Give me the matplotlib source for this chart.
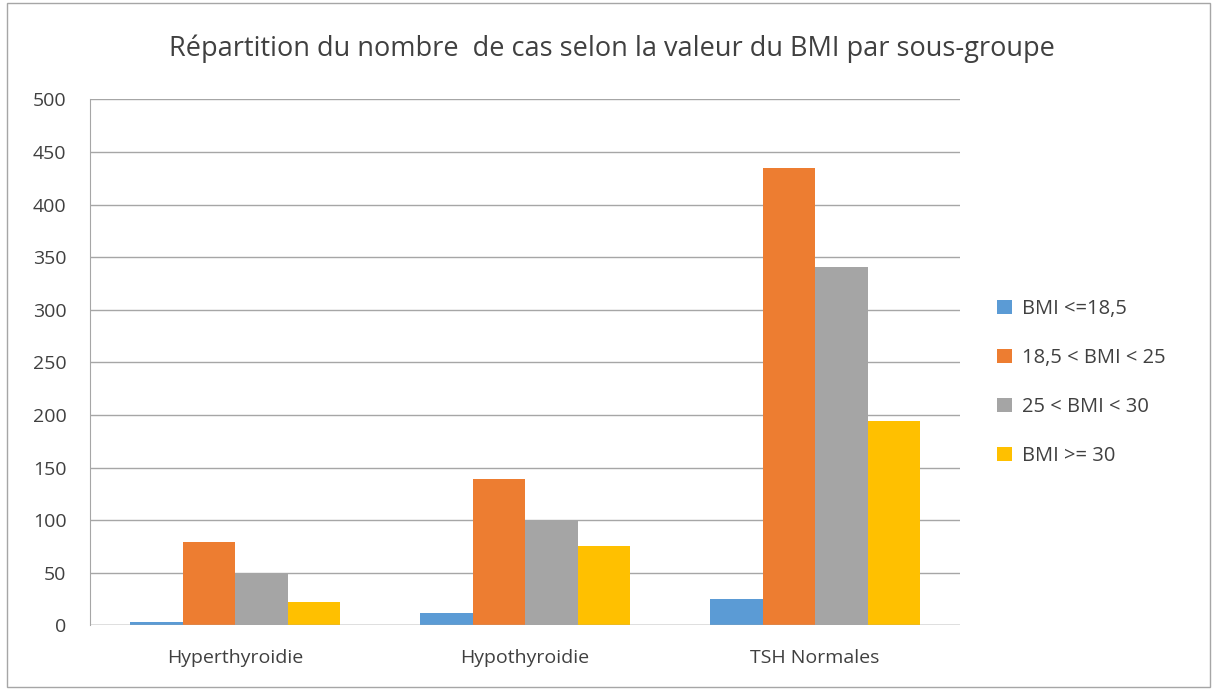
import numpy as np
import matplotlib.pyplot as plt
from matplotlib.patches import Rectangle

groups = ["Hyperthyroidie", "Hypothyroidie", "TSH Normales"]
series = ["BMI <=18,5", "18,5 < BMI < 25", "25 < BMI < 30", "BMI >= 30"]
bmi_low = [3, 12, 25]
bmi_normal = [79, 139, 435]
bmi_over = [50, 100, 341]
bmi_obese = [22, 76, 194]
colors = ["#5B9BD5", "#ED7D31", "#A5A5A5", "#FFC000"]

plt.rcParams['font.family'] = ['Open Sans', 'DejaVu Sans']

fig = plt.figure(figsize=(12.17, 6.9), dpi=100)
ax = fig.add_axes([0.074, 0.0935, 0.715, 0.7625])

x = np.arange(len(groups))
w = 0.181
values = [bmi_low, bmi_normal, bmi_over, bmi_obese]
for i, (vals, lab, c) in enumerate(zip(values, series, colors)):
    ax.bar(x + (i - 1.5) * w, vals, w, color=c, label=lab, zorder=3)

ax.set_xlim(-0.5, 2.5)
ax.set_ylim(0, 500)
ax.set_yticks(range(0, 501, 50))
ax.set_xticks(x)
ax.set_xticklabels(groups)
ax.grid(axis='y', color='#A6A6A6', linewidth=1, zorder=0)
for s in ['top', 'right', 'bottom']:
    ax.spines[s].set_visible(False)
ax.spines['left'].set_color('#A6A6A6')
ax.axhline(0, color='#A6A6A6', linewidth=1, zorder=4)
ax.tick_params(axis='both', length=0, labelsize=14, colors='#404040')
ax.tick_params(axis='x', pad=17)
ax.tick_params(axis='y', pad=17)

fig.text(0.503, 0.93, "Répartition du nombre  de cas selon la valeur du BMI par sous-groupe",
         fontsize=19.5, color='#404040', ha='center', va='center')

ax.legend(loc='center left', bbox_to_anchor=(1.022, 0.462), frameon=False,
          fontsize=14.5, labelcolor='#404040', handlelength=0.7, handleheight=0.7,
          handletextpad=0.5, labelspacing=1.45)

fig.patches.append(Rectangle((0.006, 0.004), 0.988, 0.992, transform=fig.transFigure,
                             fill=False, edgecolor='#A6A6A6', linewidth=1))

fig.savefig("out.png", dpi=100)
